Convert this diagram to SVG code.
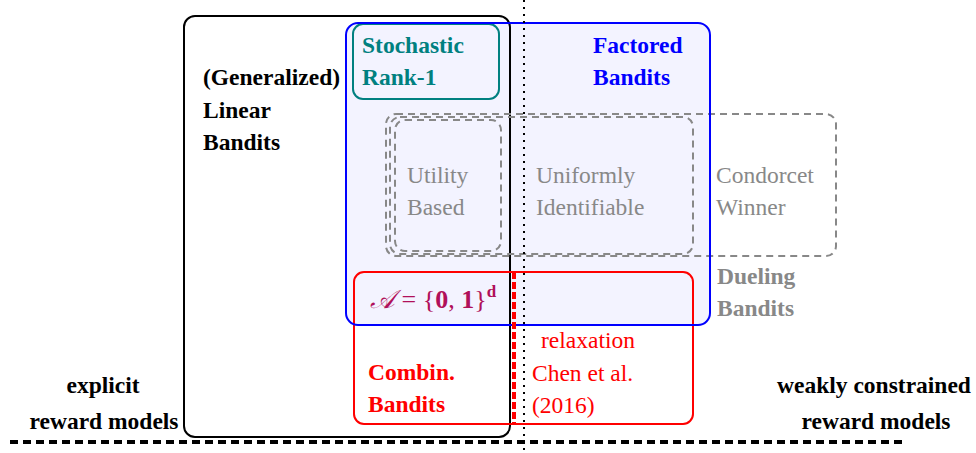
<svg xmlns="http://www.w3.org/2000/svg" width="976" height="453" viewBox="0 0 976 453">
<style>
text{font-family:"Liberation Serif","Times New Roman",serif;font-size:23.5px}
.b{font-weight:bold}
.gd{fill:none;stroke:#888;stroke-width:2;stroke-dasharray:7,5}
</style>
<rect x="0" y="0" width="976" height="453" fill="#fff"/>
<rect x="346" y="23" width="364" height="302" rx="12" fill="#f3f3ff"/>
<g id="linear">
<rect x="184" y="16" width="326" height="421" rx="11" fill="none" stroke="#000" stroke-width="2"/>
<text class="b" x="203" y="85">(Generalized)</text>
<text class="b" x="203" y="118">Linear</text>
<text class="b" x="203" y="150">Bandits</text>
</g>
<g id="rank1">
<rect x="353" y="24" width="146" height="75" rx="10" fill="none" stroke="#008080" stroke-width="2"/>
<text class="b" x="362" y="53" fill="#008080">Stochastic</text>
<text class="b" x="362" y="85" fill="#008080">Rank-1</text>
</g>
<g id="dueling">
<rect class="gd" x="386" y="114" width="450" height="142" rx="10"/>
<text class="b" x="717" y="284" fill="#888">Dueling</text>
<text class="b" x="717" y="316" fill="#888">Bandits</text>
<text x="716" y="183" fill="#888">Condorcet</text>
<text x="716" y="215" fill="#888">Winner</text>
</g>
<g id="uniform">
<rect class="gd" x="390" y="117" width="303" height="137" rx="10"/>
<text x="536" y="183" fill="#888">Uniformly</text>
<text x="536" y="215" fill="#888">Identifiable</text>
</g>
<g id="utility">
<rect class="gd" x="395" y="120" width="106" height="131" rx="10"/>
<text x="407" y="183" fill="#888">Utility</text>
<text x="407" y="215" fill="#888">Based</text>
</g>
<g id="combin">
<rect x="354" y="272" width="339" height="152" rx="10" fill="none" stroke="#f00" stroke-width="2"/>
<text class="b" x="368" y="380" fill="#f00">Combin.</text>
<text class="b" x="368" y="412" fill="#f00">Bandits</text>
<text x="370" y="308" fill="#b0105a" style="font-size:26px"><tspan font-style="italic">𝒜</tspan> = {<tspan font-weight="bold">0</tspan>, <tspan font-weight="bold">1</tspan>}<tspan font-weight="bold" style="font-size:17px" dy="-11">d</tspan></text>
</g>
<g id="factored">
<rect x="346" y="23" width="364" height="302" rx="12" fill="none" stroke="#00f" stroke-width="2"/>
<text class="b" x="593" y="53" fill="#00f">Factored</text>
<text class="b" x="593" y="85" fill="#00f">Bandits</text>
</g>
<g id="connectors">
<line x1="514" y1="272" x2="514" y2="424" stroke="#f00" stroke-width="4" stroke-dasharray="7,3"/>
<line x1="524" y1="0" x2="524" y2="453" stroke="#000" stroke-width="2" stroke-dasharray="2,5"/>
<line x1="10" y1="442" x2="902" y2="442" stroke="#000" stroke-width="4" stroke-dasharray="8,5"/>
</g>
<g id="relax">
<text x="541" y="348" fill="#f00">relaxation</text>
<text x="532" y="381" fill="#f00">Chen et al.</text>
<text x="532" y="413" fill="#f00">(2016)</text>
</g>
<g id="labels">
<text class="b" x="103" y="393" text-anchor="middle">explicit</text>
<text class="b" x="104" y="429" text-anchor="middle">reward models</text>
<text class="b" x="874" y="393" text-anchor="middle">weakly constrained</text>
<text class="b" x="876" y="429" text-anchor="middle">reward models</text>
</g>
</svg>
